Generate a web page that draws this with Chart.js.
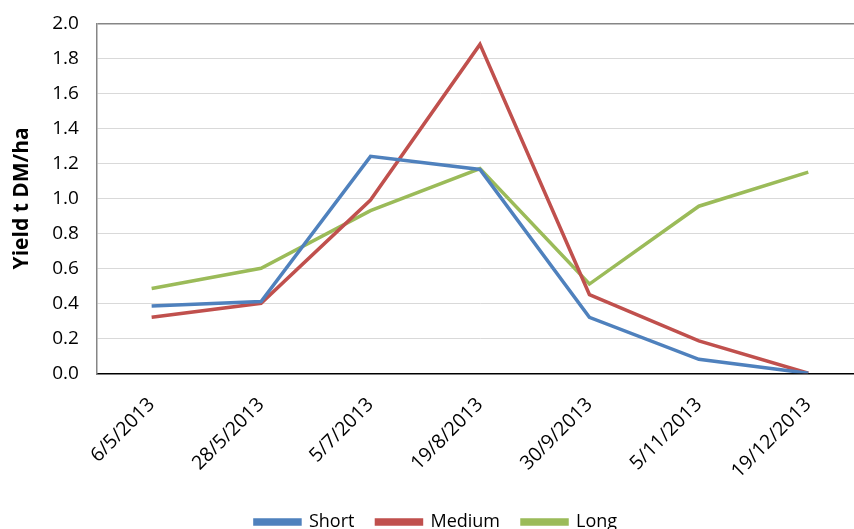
<!DOCTYPE html>
<html>
<head>
<meta charset="utf-8">
<script src="https://cdn.jsdelivr.net/npm/chart.js@4.4.1/dist/chart.umd.min.js"></script>
<style>
    html, body { margin: 0; padding: 0; background: #fff; overflow: hidden; }
    #wrap { width: 868px; height: 547px; margin-top: -6px; position: relative; }
</style>
</head>
<body>
<div id="wrap"><canvas id="yieldChart"></canvas></div>
<script>
// Dates de coupe
const dates = ['6/5/2013', '28/5/2013', '5/7/2013', '19/8/2013', '30/9/2013', '5/11/2013', '19/12/2013'];

// Rendement (t DM/ha) par série
const shortValues = [0.385, 0.41, 1.24, 1.165, 0.32, 0.08, 0.0];
const mediumValues = [0.32, 0.40, 0.99, 1.88, 0.45, 0.185, 0.0];
const longValues = [0.485, 0.60, 0.93, 1.17, 0.51, 0.955, 1.15];

const yMin = 0;
const yMax = 2.0;
const yStep = 0.2;

const FONT = "'Open Sans', 'Noto Sans', sans-serif";

document.addEventListener("DOMContentLoaded", function () {
    const ctx = document.getElementById('yieldChart').getContext('2d');
    new Chart(ctx, {
        type: 'line',
        data: {
            labels: dates,
            datasets: [
                { label: 'Short', data: shortValues, borderColor: '#4F81BD', backgroundColor: '#4F81BD' },
                { label: 'Medium', data: mediumValues, borderColor: '#C0504D', backgroundColor: '#C0504D' },
                { label: 'Long', data: longValues, borderColor: '#9BBB59', backgroundColor: '#9BBB59' }
            ]
        },
        options: {
            responsive: true,
            maintainAspectRatio: false,
            animation: false,
            elements: {
                line: { borderWidth: 3.5, tension: 0 },
                point: { radius: 0, hoverRadius: 0 }
            },
            layout: { padding: { top: 2, right: 5, left: 9, bottom: 0 } },
            plugins: {
                tooltip: { enabled: false },
                legend: {
                    position: 'bottom',
                    labels: {
                        boxWidth: 45,
                        boxHeight: 4,
                        padding: 22,
                        color: '#000',
                        font: { family: FONT, size: 18 }
                    }
                }
            },
            scales: {
                x: {
                    offset: true,
                    grid: { display: false },
                    border: { color: '#000', width: 1.5 },
                    ticks: {
                        color: '#000',
                        minRotation: 45,
                        maxRotation: 45,
                        padding: 12,
                        font: { family: FONT, size: 19.5 }
                    },
                    // ajuster l'espace entre les dates et la légende
                    afterFit: scale => { scale.height -= 4; }
                },
                y: {
                    min: yMin,
                    max: yMax,
                    grid: {
                        color: ctx => ctx.tick && ctx.tick.value >= yMax ? '#868686' : '#d9d9d9',
                        lineWidth: ctx => ctx.tick && ctx.tick.value >= yMax ? 1.5 : 1,
                        drawTicks: false
                    },
                    border: { color: '#868686', width: 1.5 },
                    ticks: {
                        stepSize: yStep,
                        color: '#000',
                        padding: 18,
                        font: { family: FONT, size: 19 },
                        callback: v => Number(v).toFixed(1)
                    },
                    title: {
                        display: true,
                        text: 'Yield t DM/ha',
                        color: '#000',
                        font: { family: FONT, size: 21, weight: 'bold' },
                        padding: { top: 0, bottom: 0 }
                    }
                }
            }
        }
    });
});
</script>
</body>
</html>
